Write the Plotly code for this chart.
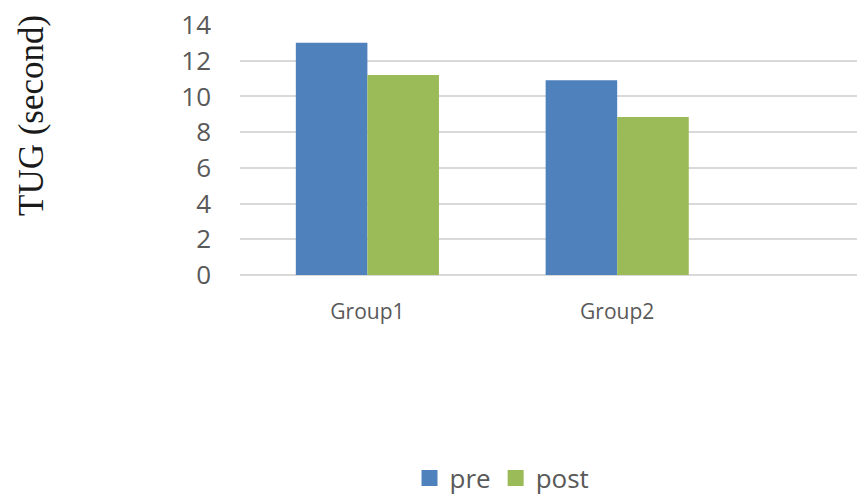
import plotly.graph_objects as go

# Timed Up and Go (TUG) results per group, before and after
groups = ["Group1", "Group2"]
pre_values = [13.0, 10.9]
post_values = [11.2, 8.85]
y_ticks = [0, 2, 4, 6, 8, 10, 12, 14]

BLUE = "#4F81BD"
GREEN = "#9BBB59"
GRID = "#D9D9D9"
TICK_COLOR = "#595959"

fig = go.Figure()
fig.add_trace(go.Bar(name="pre", x=groups, y=pre_values, showlegend=False,
                     marker=dict(color=BLUE, line=dict(width=0))))
fig.add_trace(go.Bar(name="post", x=groups, y=post_values, showlegend=False,
                     marker=dict(color=GREEN, line=dict(width=0))))

# Larger square swatches for the legend entries
for name, color in [("pre", BLUE), ("post", GREEN)]:
    fig.add_trace(go.Scatter(
        name=name, x=[None], y=[None], mode="markers",
        marker=dict(symbol="square", size=18, color=color, line=dict(width=0)),
        hoverinfo="skip",
    ))

fig.update_layout(
    width=857,
    height=500,
    margin=dict(l=240, r=0, t=25, b=225),
    paper_bgcolor="white",
    plot_bgcolor="white",
    barmode="group",
    bargap=0.427,
    bargroupgap=0,
    showlegend=True,
    legend=dict(
        orientation="h",
        xref="container",
        yref="container",
        x=502 / 857,
        xanchor="center",
        y=1 - 478 / 500,
        yanchor="middle",
        font=dict(family="Open Sans", size=26, color=TICK_COLOR),
        itemsizing="trace",
        itemwidth=30,
        tracegroupgap=0,
    ),
    annotations=[
        dict(
            text="TUG (second)",
            xref="paper",
            yref="paper",
            x=-(240 - 31) / 617,
            y=(275 - 116) / 250,
            xanchor="center",
            yanchor="middle",
            textangle=-90,
            showarrow=False,
            font=dict(family="Liberation Serif", size=35, color="#1a1a1a"),
        )
    ],
)

fig.update_xaxes(
    type="category",
    range=[-0.51, 1.96],
    showgrid=False,
    showline=False,
    zeroline=False,
    ticks="",
    ticklabelstandoff=22,
    tickfont=dict(family="Open Sans", size=21, color=TICK_COLOR),
)
fig.update_yaxes(
    range=[0, 14],
    tickvals=y_ticks,
    showgrid=True,
    gridcolor=GRID,
    gridwidth=1.5,
    zeroline=True,
    zerolinecolor=GRID,
    zerolinewidth=1.5,
    showline=False,
    ticks="",
    ticklabelstandoff=28,
    tickfont=dict(family="Open Sans", size=26, color=TICK_COLOR),
)

fig.write_html("out.html")
